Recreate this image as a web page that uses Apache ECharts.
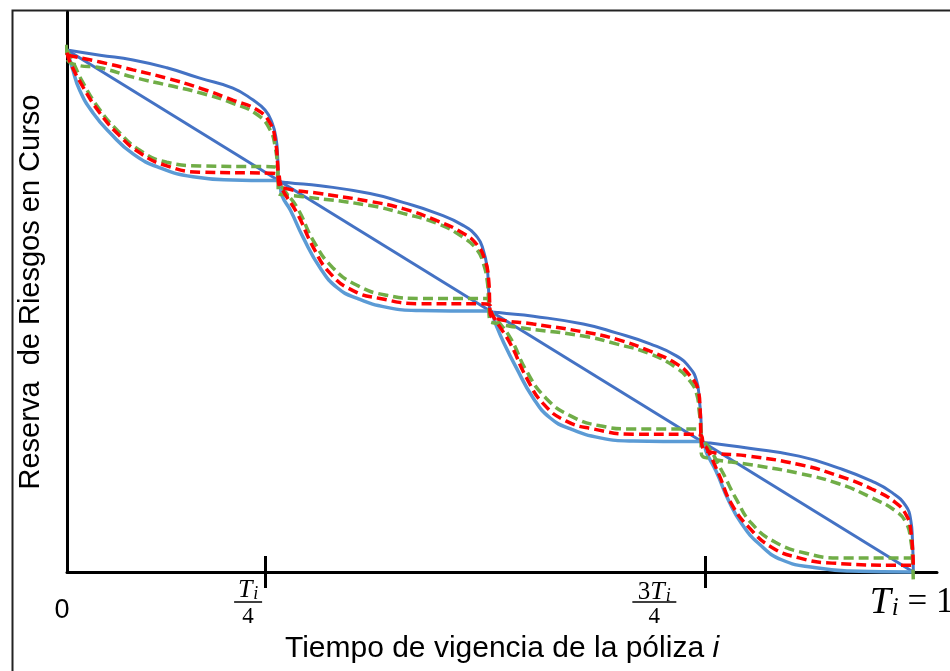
<!DOCTYPE html>
<html>
<head>
<meta charset="utf-8">
<script src="https://cdn.jsdelivr.net/npm/echarts@6/dist/echarts.min.js"></script>
<style>
  html, body { margin: 0; padding: 0; background: #fff; }
  #chart { width: 950px; height: 671px; }
</style>
</head>
<body>
<div id="chart"></div>
<script>
// Time of the policy (fraction of T_i) vs. unearned-risk reserve (fraction of premium)
const diagonal = [[0, 1], [1, 0]];

const blueUpper = [
  [0, 1], [0.039, 0.990], [0.078, 0.981], [0.118, 0.966], [0.157, 0.946], [0.196, 0.927],
  [0.220, 0.904], [0.234, 0.885], [0.242, 0.862], [0.247, 0.831], [0.249, 0.793], [0.25, 0.75],
  [0.26, 0.746], [0.299, 0.740], [0.358, 0.725], [0.397, 0.708], [0.437, 0.687], [0.468, 0.664],
  [0.485, 0.641], [0.492, 0.616], [0.4965, 0.583], [0.498, 0.545], [0.5, 0.5],
  [0.51, 0.497], [0.551, 0.490], [0.610, 0.475], [0.649, 0.458], [0.689, 0.437], [0.720, 0.414],
  [0.736, 0.391], [0.744, 0.366], [0.747, 0.333], [0.749, 0.295], [0.75, 0.25],
  [0.76, 0.247], [0.806, 0.237], [0.865, 0.222], [0.912, 0.199], [0.951, 0.174], [0.975, 0.152],
  [0.991, 0.127], [0.997, 0.099], [0.999, 0.061], [1, 0]
];

const lightLower = [
  [0, 1], [0.006, 0.967], [0.015, 0.923], [0.031, 0.879], [0.051, 0.841], [0.078, 0.801],
  [0.110, 0.774], [0.149, 0.757], [0.196, 0.751], [0.24, 0.75], [0.25, 0.75],
  [0.254, 0.721], [0.264, 0.693], [0.279, 0.641], [0.299, 0.583], [0.319, 0.545], [0.343, 0.524],
  [0.378, 0.507], [0.417, 0.501], [0.49, 0.5], [0.5, 0.5],
  [0.506, 0.477], [0.515, 0.443], [0.531, 0.391], [0.551, 0.333], [0.571, 0.295], [0.595, 0.274],
  [0.630, 0.257], [0.669, 0.251], [0.74, 0.25], [0.75, 0.25],
  [0.756, 0.227], [0.767, 0.193], [0.782, 0.136], [0.797, 0.093], [0.817, 0.055], [0.845, 0.023],
  [0.885, 0.008], [0.924, 0.002], [1, 0]
];

const redUpper = [
  [0.001, 0.99], [0.039, 0.977], [0.078, 0.962], [0.118, 0.946], [0.157, 0.927], [0.196, 0.904],
  [0.225, 0.885], [0.240, 0.860], [0.246, 0.828], [0.249, 0.779], [0.25, 0.745],
  [0.258, 0.735], [0.299, 0.725], [0.358, 0.710], [0.397, 0.696], [0.437, 0.673], [0.468, 0.649],
  [0.485, 0.626], [0.494, 0.597], [0.498, 0.564], [0.4995, 0.514], [0.5, 0.495],
  [0.508, 0.485], [0.551, 0.475], [0.610, 0.460], [0.649, 0.446], [0.689, 0.423], [0.720, 0.399],
  [0.736, 0.376], [0.746, 0.347], [0.748, 0.314], [0.749, 0.264], [0.75, 0.245],
  [0.757, 0.231], [0.806, 0.222], [0.865, 0.206], [0.912, 0.184], [0.951, 0.159], [0.979, 0.133],
  [0.992, 0.108], [0.997, 0.080], [1, 0.012]
];

const redLower = [
  [0, 0.995], [0.0035, 0.977], [0.019, 0.929], [0.039, 0.879], [0.059, 0.841], [0.086, 0.803],
  [0.118, 0.778], [0.157, 0.766], [0.24, 0.764], [0.249, 0.762],
  [0.252, 0.745], [0.255, 0.731], [0.272, 0.687], [0.291, 0.622], [0.311, 0.572], [0.338, 0.539],
  [0.370, 0.524], [0.417, 0.514], [0.49, 0.514], [0.499, 0.512],
  [0.502, 0.495], [0.507, 0.481], [0.524, 0.437], [0.543, 0.372], [0.563, 0.322], [0.590, 0.289],
  [0.622, 0.274], [0.669, 0.264], [0.74, 0.264], [0.749, 0.262],
  [0.752, 0.245], [0.756, 0.237], [0.770, 0.188], [0.785, 0.131], [0.806, 0.085], [0.833, 0.047],
  [0.865, 0.027], [0.904, 0.017], [0.99, 0.013], [1, 0.013]
];

const greenUpper = [
  [-0.001, 1.01], [0, 0.985], [0.012, 0.971], [0.039, 0.966], [0.078, 0.948], [0.118, 0.933],
  [0.157, 0.918], [0.196, 0.898], [0.225, 0.876], [0.240, 0.847], [0.246, 0.814], [0.249, 0.770],
  [0.25, 0.725],
  [0.255, 0.723], [0.279, 0.719], [0.358, 0.702], [0.397, 0.687], [0.437, 0.668], [0.468, 0.641],
  [0.485, 0.616], [0.492, 0.591], [0.4965, 0.558], [0.498, 0.524], [0.4995, 0.481],
  [0.506, 0.477], [0.531, 0.469], [0.610, 0.452], [0.649, 0.437], [0.689, 0.418], [0.720, 0.391],
  [0.736, 0.366], [0.744, 0.341], [0.747, 0.308], [0.749, 0.274], [0.7495, 0.227],
  [0.758, 0.218], [0.806, 0.206], [0.865, 0.189], [0.912, 0.169], [0.951, 0.142], [0.979, 0.117],
  [0.992, 0.093], [0.997, 0.061], [0.999, 0.027], [1, -0.019]
];

const greenLower = [
  [0, 1], [0.006, 0.981], [0.019, 0.937], [0.039, 0.885], [0.059, 0.847], [0.086, 0.808],
  [0.118, 0.785], [0.157, 0.778], [0.246, 0.776], [0.25, 0.75],
  [0.255, 0.735], [0.272, 0.698], [0.291, 0.635], [0.314, 0.583], [0.343, 0.549], [0.378, 0.530],
  [0.417, 0.524], [0.4965, 0.524], [0.5, 0.5],
  [0.507, 0.485], [0.524, 0.448], [0.543, 0.385], [0.566, 0.333], [0.595, 0.299], [0.630, 0.280],
  [0.669, 0.274], [0.748, 0.274], [0.75, 0.25],
  [0.756, 0.244], [0.774, 0.193], [0.790, 0.142], [0.809, 0.093], [0.837, 0.057], [0.873, 0.036],
  [0.912, 0.027], [0.998, 0.027]
];

// tick marks on the time axis and where the tick captions sit
const tickValues = [0.234, 0.754];
const labelValues = [0, 0.214, 0.694, 0.998];
const labelTexts = [
  '{z|0}',
  '{t|T}{s|i}\n{bar|}\n{d|4}',
  '{n3|3}{t3|T}{s3|i}\n{bar2|}\n{d|4}',
  '{T|T}{S|i}{E| = 1}'
];

const xTitle = '{n|Tiempo de vigencia de la póliza }{i|i}';
const yTitle = 'Reserva  de Riesgos en Curso';

const BLUE = '#4472C4';
const LIGHT = '#5B9BD5';
const RED = '#FF0000';
const GREEN = '#70AD47';

const chart = echarts.init(document.getElementById('chart'), null, { renderer: 'canvas' });

function curve(data, color, width, dashed, z) {
  return {
    type: 'line',
    data: data,
    symbol: 'none',
    smooth: 0.5,
    clip: false,
    z: z,
    lineStyle: {
      color: color,
      width: width,
      type: dashed ? [10, 5] : 'solid',
      cap: 'butt'
    },
    emphasis: { disabled: true }
  };
}

const serifItalic = { fontFamily: 'Liberation Serif', fontStyle: 'italic', color: '#000' };
const serif = { fontFamily: 'Liberation Serif', color: '#000' };

chart.setOption({
  animation: false,
  backgroundColor: '#fff',
  grid: { left: 67, right: 13, top: 12, bottom: 99, containLabel: false, outerBoundsMode: 'none' },
  graphic: [{
    type: 'rect',
    left: 10, top: 8,
    shape: { width: 980, height: 720 },
    style: { fill: 'none', stroke: '#222', lineWidth: 2 },
    silent: true
  }],
  xAxis: [{
    type: 'value',
    min: 0,
    max: 1.028,
    splitLine: { show: false },
    axisLine: { onZero: true, lineStyle: { color: '#000', width: 3 } },
    axisTick: { show: true, customValues: tickValues, length: 16, inside: false,
                lineStyle: { color: '#000', width: 3 } },
    axisLabel: {
      show: true,
      customValues: labelValues,
      margin: 6,
      hideOverlap: false,
      formatter: function (v) {
        let best = 0;
        for (let k = 1; k < labelValues.length; k++) {
          if (Math.abs(labelValues[k] - v) < Math.abs(labelValues[best] - v)) best = k;
        }
        return labelTexts[best];
      },
      rich: {
        z: { fontFamily: 'Liberation Sans', fontSize: 27, color: '#000', padding: [19, 10, 0, 0] },
        t: Object.assign({ fontSize: 26, lineHeight: 24 }, serifItalic),
        s: Object.assign({ fontSize: 18, lineHeight: 24, padding: [9, 0, 0, 1] }, serifItalic),
        n3: Object.assign({ fontSize: 25, lineHeight: 24, padding: [4, 0, 0, 0] }, serif),
        t3: Object.assign({ fontSize: 26, lineHeight: 24, padding: [4, 0, 0, 0] }, serifItalic),
        s3: Object.assign({ fontSize: 18, lineHeight: 24, padding: [13, 0, 0, 1] }, serifItalic),
        bar: { width: 28, height: 0, borderColor: '#000', borderWidth: 1.5 },
        bar2: { width: 44, height: 0, borderColor: '#000', borderWidth: 1.5 },
        d: Object.assign({ fontSize: 23, lineHeight: 24, padding: [6, 0, 0, 0] }, serif),
        T: Object.assign({ fontSize: 38, lineHeight: 36, padding: [14, 0, 0, 0] }, serifItalic),
        S: Object.assign({ fontSize: 25, lineHeight: 36, padding: [24, 0, 0, 1] }, serifItalic),
        E: Object.assign({ fontSize: 35, lineHeight: 36, padding: [14, 0, 0, 0] }, serif)
      }
    },
    name: xTitle,
    nameLocation: 'middle',
    nameGap: 62,
    nameTextStyle: {
      rich: {
        n: { fontFamily: 'Liberation Sans', fontSize: 30, color: '#000' },
        i: { fontFamily: 'Liberation Sans', fontStyle: 'italic', fontSize: 30, color: '#000' }
      }
    }
  }, {
    type: 'value',
    min: 0,
    max: 1.028,
    position: 'bottom',
    splitLine: { show: false },
    axisLine: { show: false },
    axisLabel: { show: false },
    axisTick: { show: true, customValues: tickValues, length: 16, inside: true,
                lineStyle: { color: '#000', width: 3 } }
  }],
  yAxis: {
    type: 'value',
    min: 0,
    max: 1.0728,
    splitLine: { show: false },
    axisTick: { show: false },
    axisLabel: { show: false },
    axisLine: { show: true, onZero: true, lineStyle: { color: '#000', width: 3 } },
    name: yTitle,
    nameLocation: 'middle',
    nameGap: 22,
    nameTextStyle: { fontFamily: 'Liberation Sans', fontSize: 29, color: '#000' }
  },
  series: [
    curve(diagonal, BLUE, 3, false, 2),
    curve(blueUpper, BLUE, 3, false, 3),
    curve(lightLower, LIGHT, 3.5, false, 3),
    curve(greenUpper, GREEN, 3.5, true, 4),
    curve(greenLower, GREEN, 3.5, true, 4),
    curve(redUpper, RED, 3.5, true, 5),
    curve(redLower, RED, 3.5, true, 5)
  ]
});
</script>
</body>
</html>
